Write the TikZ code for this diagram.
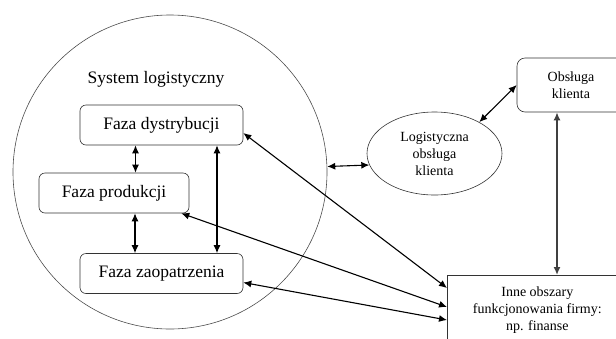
\documentclass[tikz,border=0pt]{standalone}
\usepackage{fontspec}
\setmainfont{Liberation Serif}
\usetikzlibrary{shapes}
\usetikzlibrary{arrows.meta}

\begin{document}
\begin{tikzpicture}[x=1pt,y=-1pt,
    faza/.style={draw=black!80, line width=0.6pt, rounded corners=6pt, minimum width=163pt, minimum height=40pt, font=\rmfamily\fontsize{17.5}{20}\selectfont},
    small/.style={font=\rmfamily\fontsize{14}{17}\selectfont, align=center},
    arr/.style={{Latex[length=8pt,width=7pt]}-{Latex[length=8pt,width=7pt]}, line width=1.1pt}]
    \clip (0,0) rectangle (616,338);
    \node[circle, draw=black!70, line width=0.6pt, minimum size=314pt] (sys) at (170,172) {};
    \node[font=\rmfamily\fontsize{17.5}{20}\selectfont] (syslabel) at (156,79) {System logistyczny};
    \node[faza] (dys) at (161.5,125) {Faza dystrybucji};
    \node[faza, minimum width=150pt] (prod) at (114,193) {Faza produkcji};
    \node[faza] (zao) at (161.5,273.5) {Faza zaopatrzenia};
    \node[ellipse, draw=black!80, line width=0.6pt, small, minimum width=135pt, minimum height=83pt, inner sep=0pt] (ell) at (434.5,153.5) {Logistyczna\\obsługa\\klienta};
    \node[draw=black!80, line width=0.6pt, rounded corners=8pt, small, minimum width=108pt, minimum height=54pt] (obs) at (571,85) {Obsługa\\klienta};
    \node[draw=black!80, line width=0.6pt, small, anchor=north west, minimum width=180pt, minimum height=70pt] (inne) at (447,275) {Inne obszary\\funkcjonowania firmy:\\np. finanse};
    % strzalki wewnatrz systemu
    \draw[arr] ([xshift=-26pt]dys.south) -- ([xshift=-26pt]dys.south |- prod.north);
    \draw[arr] ([xshift=21pt]prod.south) -- ([xshift=21pt]prod.south |- zao.north);
    \draw[arr] ([xshift=55.5pt]dys.south) -- ([xshift=55.5pt]zao.north);
    % obsluga klienta
    \draw[arr] (sys.2) -- (ell.190);
    \draw[arr] (ell.35) -- (obs.west);
    \draw[arr, line width=1.6pt, black!75] ([xshift=-14pt]obs.south) -- ([xshift=-14pt]obs.south |- inne.north);
    % inne obszary
    \draw[arr] ([yshift=-8pt]dys.east) -- ([yshift=-13pt]inne.north west);
    \draw[arr] ([xshift=-8pt]prod.south east) -- ([yshift=-32pt]inne.north west);
    \draw[arr] ([yshift=-9pt]zao.east) -- ([yshift=-45pt]inne.north west);
\end{tikzpicture}
\end{document}
